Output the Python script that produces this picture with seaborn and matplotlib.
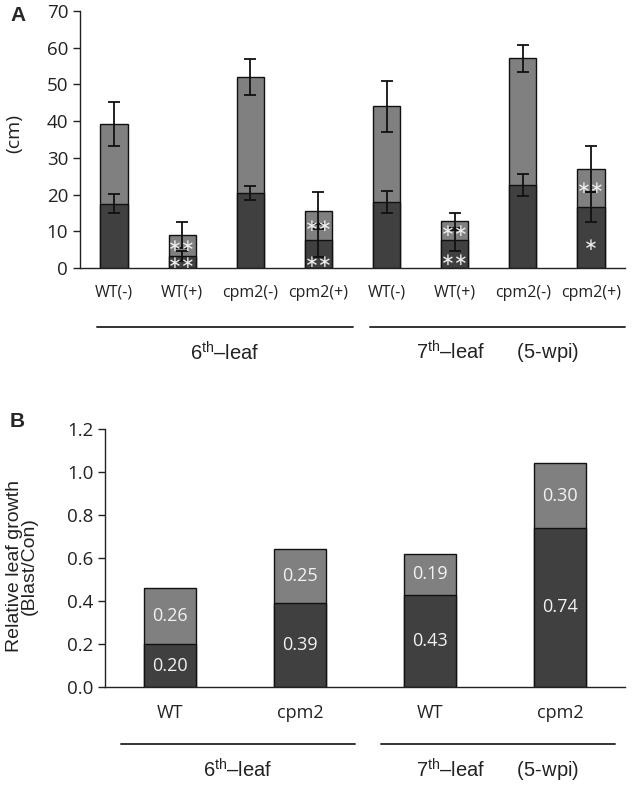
import matplotlib
matplotlib.use("Agg")
import matplotlib.pyplot as plt
import matplotlib.transforms as mtransforms
import pandas as pd
import seaborn as sns

# ---- panel A: leaf length (cm), stacked dark (lower) + light (upper) ----
a_labels = ["WT(-)", "WT(+)", "cpm2(-)", "cpm2(+)", "WT(-)", "WT(+)", "cpm2(-)", "cpm2(+)"]
a_dark = [17.5, 3.2, 20.4, 7.5, 18.0, 7.7, 22.7, 16.6]
a_dark_err = [2.6, 1.3, 1.8, 4.5, 3.0, 3.1, 3.0, 4.2]
a_total = [39.3, 8.9, 52.0, 15.6, 44.0, 12.7, 57.1, 26.9]
a_total_err = [6.0, 3.5, 5.0, 5.1, 6.9, 2.4, 3.6, 6.2]
a_stars_upper = ["", "∗∗", "", "∗∗", "", "∗∗", "", "∗∗"]
a_stars_lower = ["", "∗∗", "", "∗∗", "", "∗∗", "", "∗"]

# ---- panel B: relative leaf growth (Blast/Con) ----
b_labels = ["WT", "cpm2", "WT", "cpm2"]
b_dark = [0.20, 0.39, 0.43, 0.74]
b_light = [0.26, 0.25, 0.19, 0.30]

leaf_groups = [r"6$^{\rm th}$–leaf", r"7$^{\rm th}$–leaf      (5-wpi)"]
a_group_span = [(0, 3), (4, 7)]
b_group_span = [(0, 1), (2, 3)]

DARK = "#404040"
LIGHT = "#808080"
CAL = "Open Sans"
ARIAL = "Liberation Sans"

sns.set_style("ticks")
plt.rcParams["font.family"] = [CAL, "DejaVu Sans"]
plt.rcParams["mathtext.fontset"] = "custom"
plt.rcParams["mathtext.rm"] = ARIAL
plt.rcParams["axes.linewidth"] = 1.0
plt.rcParams["axes.edgecolor"] = "#222222"

fig = plt.figure(figsize=(6.33, 7.87), dpi=100)
axA = fig.add_axes([0.1264, 0.6595, 0.861, 0.3266])
axB = fig.add_axes([0.166, 0.127, 0.8215, 0.328])

# ---------------- panel A ----------------
dfA = pd.DataFrame({"pos": range(len(a_labels)), "dark": a_dark, "total": a_total})
bar_kw = dict(width=0.4, saturation=1, edgecolor="#111111", linewidth=1.0)
sns.barplot(data=dfA, x="pos", y="total", color=LIGHT, ax=axA, **bar_kw)
sns.barplot(data=dfA, x="pos", y="dark", color=DARK, ax=axA, **bar_kw)
err_kw = dict(fmt="none", ecolor="#111111", elinewidth=1.3, capsize=4.3, capthick=1.3, zorder=5)
axA.errorbar(dfA["pos"], a_total, yerr=a_total_err, **err_kw)
axA.errorbar(dfA["pos"], a_dark, yerr=a_dark_err, **err_kw)

star_kw = dict(color="#eeeeee", ha="center", va="center", fontsize=12,
               family="DejaVu Sans", zorder=6)
for i, (su, sl) in enumerate(zip(a_stars_upper, a_stars_lower)):
    if su:
        axA.text(i, (a_dark[i] + a_total[i]) / 2, su, **star_kw)
    if sl:
        axA.text(i, max((a_dark[i] - a_dark_err[i]) / 2, 1.4), sl, **star_kw)

axA.set_xlim(-0.5, len(a_labels) - 0.5)
axA.set_ylim(0, 70)
axA.set_yticks(range(0, 71, 10))
axA.set_xticks(range(len(a_labels)))
axA.set_xticklabels(a_labels, fontsize=11.5, color="#222222")
axA.tick_params(axis="x", length=0, pad=12)
axA.tick_params(axis="y", labelsize=13.5, length=5, width=1.0, color="#222222", labelcolor="#222222")
axA.set_xlabel("")
axA.set_ylabel("(cm)", fontsize=14, color="#222222", va="center")
axA.yaxis.set_label_coords(-0.121, 0.525)
sns.despine(ax=axA)

transA = mtransforms.blended_transform_factory(axA.transData, axA.transAxes)
for (lo, hi), lab in zip(a_group_span, leaf_groups):
    x0, x1 = lo - 0.25, hi + 0.5
    axA.plot([x0, x1], [-0.23, -0.23], color="#333333", lw=1.4, transform=transA, clip_on=False)
    axA.text((x0 + x1) / 2, -0.33, lab, transform=transA, ha="center", va="center",
             fontsize=14.5, family=ARIAL, color="#222222")

# ---------------- panel B ----------------
dfB = pd.DataFrame({"pos": range(len(b_labels)), "dark": b_dark,
                    "total": [d + l for d, l in zip(b_dark, b_light)]})
sns.barplot(data=dfB, x="pos", y="total", color=LIGHT, ax=axB, **bar_kw)
sns.barplot(data=dfB, x="pos", y="dark", color=DARK, ax=axB, **bar_kw)

for i, (d, l) in enumerate(zip(b_dark, b_light)):
    axB.text(i, d / 2, f"{d:.2f}", color="#f2f2f2", ha="center", va="center", fontsize=13)
    axB.text(i, d + l / 2, f"{l:.2f}", color="#f2f2f2", ha="center", va="center", fontsize=13)

axB.set_xlim(-0.5, len(b_labels) - 0.5)
axB.set_ylim(0, 1.2)
b_ticks = [0.0, 0.2, 0.4, 0.6, 0.8, 1.0, 1.2]
axB.set_yticks(b_ticks)
axB.set_yticklabels([f"{t:.1f}" for t in b_ticks])
axB.set_xticks(range(len(b_labels)))
axB.set_xticklabels(b_labels, fontsize=13, color="#222222")
axB.tick_params(axis="x", length=0, pad=12)
axB.tick_params(axis="y", labelsize=13.5, length=5, width=1.0, color="#222222", labelcolor="#222222")
axB.set_xlabel("")
axB.set_ylabel("Relative leaf growth\n(Blast/Con)", fontsize=14, family=ARIAL,
               color="#222222", linespacing=0.9, va="center")
axB.yaxis.set_label_coords(-0.16, 0.47)
sns.despine(ax=axB)

transB = mtransforms.blended_transform_factory(axB.transData, axB.transAxes)
for (lo, hi), lab in zip(b_group_span, leaf_groups):
    x0, x1 = lo - 0.38, hi + 0.42
    axB.plot([x0, x1], [-0.221, -0.221], color="#333333", lw=1.4, transform=transB, clip_on=False)
    axB.text((x0 + x1) / 2, -0.322, lab, transform=transB, ha="center", va="center",
             fontsize=14.5, family=ARIAL, color="#222222")

fig.text(10 / 633, 1 - 6 / 787, "A", fontsize=15, fontweight="bold", family=ARIAL, va="top")
fig.text(10 / 633, 1 - 412 / 787, "B", fontsize=15, fontweight="bold", family=ARIAL, va="top")

fig.savefig("out.png", dpi=100, facecolor="white")
